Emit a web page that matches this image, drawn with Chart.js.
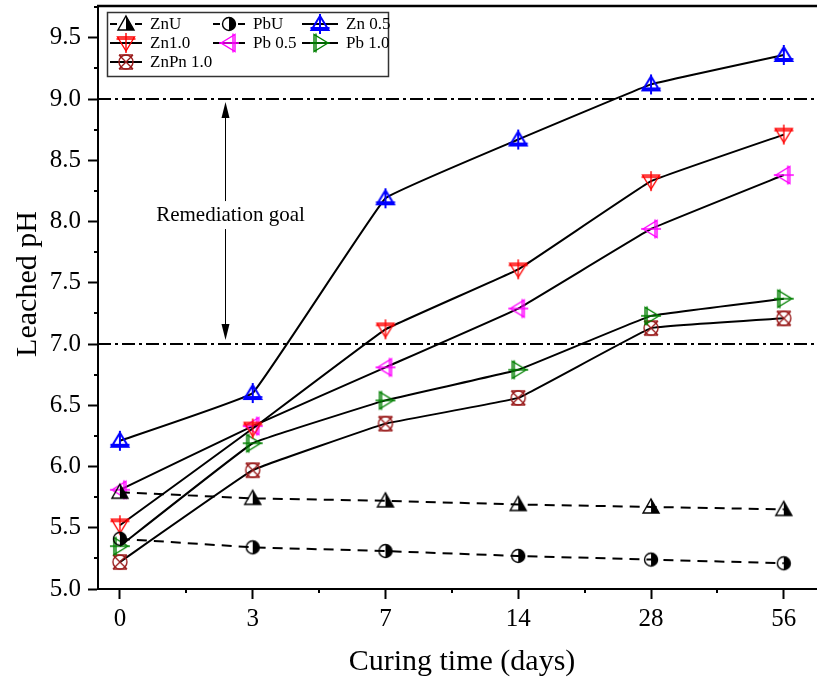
<!DOCTYPE html>
<html lang="en">
<head>
  <meta charset="UTF-8">
  <title>Leached pH vs curing time</title>
  <script src="https://cdn.jsdelivr.net/npm/chart.js"></script>
  <style>
    html, body { margin: 0; padding: 0; background: #fff; }
    #wrap { width: 817px; height: 683px; position: relative; }
  </style>
</head>
<body>
  <div id="wrap"><canvas id="grafik"></canvas></div>

  <script>
    // data
    const days = ['0', '3', '7', '14', '28', '56'];
    const znU    = [5.79, 5.74, 5.72, 5.69, 5.67, 5.65];
    const pbU    = [5.41, 5.34, 5.31, 5.27, 5.24, 5.21];
    const zn05   = [6.21, 6.60, 8.19, 8.67, 9.12, 9.36];
    const zn10   = [5.52, 6.31, 7.12, 7.61, 8.33, 8.71];
    const pb05   = [5.81, 6.33, 6.81, 7.29, 7.94, 8.38];
    const pb10   = [5.35, 6.19, 6.54, 6.79, 7.23, 7.37];
    const znPn10 = [5.22, 5.97, 6.35, 6.56, 7.13, 7.21];
    const yTicks = [5.0, 5.5, 6.0, 6.5, 7.0, 7.5, 8.0, 8.5, 9.0, 9.5];
    const goalLines = [7.0, 9.0];
    const arrowAt = 0.79; // x position of the "Remediation goal" arrow, in category units

    const serif = '"Liberation Serif", "Times New Roman", serif';

    function pts(vals) {
      return vals.map((v, i) => ({ x: i, y: v }));
    }

    // marker images, drawn like the Origin symbols
    function marker(kind, color, lw) {
      const s = 24, m = s / 2;
      const c = document.createElement('canvas');
      c.width = s; c.height = s;
      const g = c.getContext('2d');
      g.strokeStyle = color;
      g.fillStyle = color;
      g.lineWidth = lw || 1.4;
      g.translate(m, m);

      const rot = { up: 0, right: Math.PI / 2, down: Math.PI, left: -Math.PI / 2 };
      if (kind in rot) {
        g.rotate(rot[kind]);
        g.beginPath();
        g.moveTo(0, -8); g.lineTo(8.5, 6); g.lineTo(-8.5, 6); g.closePath();
        g.stroke();
        g.beginPath();
        g.moveTo(0, -10); g.lineTo(0, 10);
        g.moveTo(-9.5, 4); g.lineTo(9.5, 4);
        g.stroke();
      } else if (kind === 'halfTri') {
        g.beginPath();
        g.moveTo(0, -8); g.lineTo(8, 6); g.lineTo(0, 6); g.closePath();
        g.fill();
        g.beginPath();
        g.moveTo(0, -8); g.lineTo(8, 6); g.lineTo(-8, 6); g.closePath();
        g.stroke();
      } else if (kind === 'halfCircle') {
        g.beginPath();
        g.arc(0, 0, 6.5, -Math.PI / 2, Math.PI / 2);
        g.closePath();
        g.fill();
        g.beginPath();
        g.arc(0, 0, 6.5, 0, Math.PI * 2);
        g.stroke();
      } else if (kind === 'circleX') {
        g.beginPath();
        g.arc(0, 0, 7, 0, Math.PI * 2);
        g.stroke();
        g.beginPath();
        g.moveTo(-7, -7); g.lineTo(7, 7);
        g.moveTo(7, -7); g.lineTo(-7, 7);
        g.moveTo(-7, -7); g.lineTo(7, -7);
        g.moveTo(-7, 7); g.lineTo(7, 7);
        g.stroke();
      }
      return c;
    }

    const series = [
      { label: 'ZnU',      data: znU,    marker: marker('halfTri', '#000'),           dash: [10, 7] },
      { label: 'PbU',      data: pbU,    marker: marker('halfCircle', '#000'),        dash: [10, 7] },
      { label: 'Zn 0.5',   data: zn05,   marker: marker('up', '#0000ff', 2),          dash: [] },
      { label: 'Zn1.0',    data: zn10,   marker: marker('down', '#ff0000'),           dash: [] },
      { label: 'Pb 0.5',   data: pb05,   marker: marker('left', '#ff00ff'),           dash: [] },
      { label: 'Pb 1.0',   data: pb10,   marker: marker('right', '#008000'),          dash: [] },
      { label: 'ZnPn 1.0', data: znPn10, marker: marker('circleX', '#9a1c1c'),        dash: [] }
    ];

    const extras = {
      id: 'extras',
      beforeDatasetsDraw(chart) {
        const { ctx, chartArea: a, scales: { y } } = chart;
        ctx.save();
        ctx.strokeStyle = '#000';
        ctx.lineWidth = 2;
        ctx.setLineDash([13, 4, 3, 4]);
        goalLines.forEach(v => {
          const py = Math.round(y.getPixelForValue(v));
          ctx.beginPath();
          ctx.moveTo(a.left, py);
          ctx.lineTo(a.right, py);
          ctx.stroke();
        });
        ctx.restore();
      },
      afterDraw(chart) {
        const { ctx, chartArea: a, scales: { x, y } } = chart;
        ctx.save();

        // top frame line
        ctx.strokeStyle = '#000';
        ctx.lineWidth = 2.5;
        ctx.beginPath();
        ctx.moveTo(a.left - 1, a.top);
        ctx.lineTo(a.right, a.top);
        ctx.stroke();

        // minor ticks
        ctx.lineWidth = 2;
        for (let v = 5.25; v < y.max; v += 0.5) {
          const py = Math.round(y.getPixelForValue(v));
          ctx.beginPath();
          ctx.moveTo(a.left, py);
          ctx.lineTo(a.left - 4, py);
          ctx.stroke();
        }
        for (let v = 0.5; v < x.max; v += 1) {
          const px = Math.round(x.getPixelForValue(v));
          ctx.beginPath();
          ctx.moveTo(px, a.bottom);
          ctx.lineTo(px, a.bottom + 4);
          ctx.stroke();
        }

        // axis titles
        ctx.fillStyle = '#000';
        ctx.font = '30px ' + serif;
        ctx.textAlign = 'center';
        ctx.textBaseline = 'middle';
        ctx.fillText('Curing time (days)', 462, 662);
        ctx.save();
        ctx.translate(28, 284);
        ctx.rotate(-Math.PI / 2);
        ctx.fillText('Leached pH', 0, 0);
        ctx.restore();

        // remediation goal arrow
        const ax = Math.round(x.getPixelForValue(arrowAt)) + 0.5;
        const yTop = y.getPixelForValue(goalLines[1]) + 3;
        const yBot = y.getPixelForValue(goalLines[0]) - 4;
        const yMid = (yTop + yBot) / 2 - 6;
        ctx.lineWidth = 1;
        ctx.beginPath();
        ctx.moveTo(ax, yTop + 10); ctx.lineTo(ax, yMid - 14);
        ctx.moveTo(ax, yMid + 14); ctx.lineTo(ax, yBot - 10);
        ctx.stroke();
        ctx.beginPath();
        ctx.moveTo(ax, yTop); ctx.lineTo(ax - 4, yTop + 16); ctx.lineTo(ax + 4, yTop + 16); ctx.closePath();
        ctx.moveTo(ax, yBot); ctx.lineTo(ax - 4, yBot - 16); ctx.lineTo(ax + 4, yBot - 16); ctx.closePath();
        ctx.fill();
        ctx.font = '21px ' + serif;
        ctx.fillText('Remediation goal', ax + 5, yMid);

        // legend box
        ctx.lineWidth = 1.5;
        ctx.strokeStyle = '#333';
        ctx.strokeRect(107.5, 12.5, 281, 64);
        const cols = [110, 213, 302];
        const lineLen = [32, 32, 36];
        const rows = [24, 43, 62];
        ctx.font = '17px ' + serif;
        ctx.textAlign = 'left';
        series.forEach((s, i) => {
          const cx = cols[i % 3], cy = rows[Math.floor(i / 3)];
          const len = lineLen[i % 3];
          ctx.strokeStyle = '#000';
          ctx.lineWidth = 2;
          ctx.setLineDash(s.dash.length ? [7, 18] : []);
          ctx.beginPath();
          ctx.moveTo(cx, cy); ctx.lineTo(cx + len, cy);
          ctx.stroke();
          ctx.setLineDash([]);
          const mk = s.marker;
          ctx.drawImage(mk, cx + len / 2 - mk.width / 2, cy - mk.height / 2);
          ctx.fillStyle = '#000';
          ctx.fillText(s.label, cx + len + 8, cy + 1);
        });

        ctx.restore();
      }
    };

    const tickFont = { family: serif, size: 25 };

    new Chart(document.getElementById('grafik'), {
      type: 'line',
      data: {
        datasets: series.map(s => ({
          label: s.label,
          data: pts(s.data),
          borderColor: '#000',
          borderWidth: 2,
          borderDash: s.dash,
          tension: s.dash.length ? 0 : 0.06,
          pointStyle: s.marker,
          pointRadius: 8,
          fill: false
        }))
      },
      options: {
        responsive: true,
        maintainAspectRatio: false,
        animation: false,
        layout: { autoPadding: false, padding: { top: 6, right: 0, left: 0, bottom: 0 } },
        plugins: {
          legend: { display: false },
          tooltip: { enabled: false }
        },
        scales: {
          x: {
            type: 'linear',
            min: -0.165,
            max: 5.25,
            afterBuildTicks: s => { s.ticks = days.map((d, i) => ({ value: i })); },
            afterFit: s => { s.height = 94; s.paddingLeft = 0; s.paddingRight = 0; },
            ticks: {
              callback: v => days[v],
              font: tickFont,
              color: '#000',
              padding: 5,
              maxRotation: 0,
              autoSkip: false
            },
            grid: { display: true, drawOnChartArea: false, drawTicks: true, tickLength: 10, tickWidth: 2, tickColor: '#000' },
            border: { display: true, color: '#000', width: 2 }
          },
          y: {
            min: 5.0,
            max: 9.76,
            afterBuildTicks: s => { s.ticks = yTicks.map(v => ({ value: v })); },
            afterFit: s => { s.width = 98; s.paddingTop = 0; s.paddingBottom = 0; },
            ticks: {
              callback: v => v.toFixed(1),
              font: tickFont,
              color: '#000',
              padding: 7
            },
            grid: { display: true, drawOnChartArea: false, drawTicks: true, tickLength: 10, tickWidth: 2, tickColor: '#000' },
            border: { display: true, color: '#000', width: 2 }
          }
        }
      },
      plugins: [extras]
    });
  </script>
</body>
</html>
